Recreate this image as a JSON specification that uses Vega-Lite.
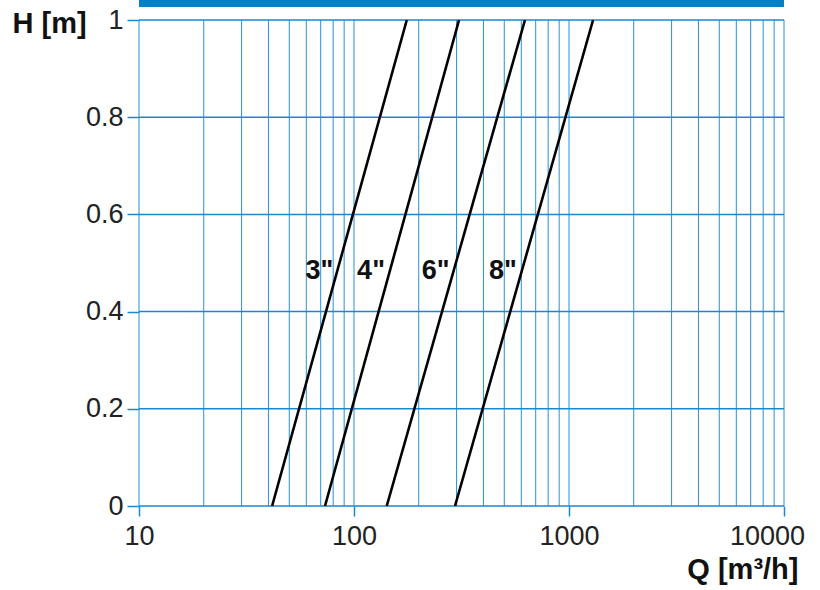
{
  "$schema": "https://vega.github.io/schema/vega-lite/v6.json",
  "autosize": {"type": "none"},
  "width": 645,
  "height": 486,
  "padding": {"left": 139, "top": 20, "right": 36, "bottom": 84},
  "background": "white",
  "config": {
    "view": {"stroke": null},
    "font": "Liberation Sans",
    "axis": {"grid": false, "domain": false}
  },
  "datasets": {
    "curves": [
      {"size": "3\"", "Q": 41.6, "H": 0},
      {"size": "3\"", "Q": 176, "H": 1},
      {"size": "4\"", "Q": 73.3, "H": 0},
      {"size": "4\"", "Q": 308, "H": 1},
      {"size": "6\"", "Q": 142, "H": 0},
      {"size": "6\"", "Q": 624, "H": 1},
      {"size": "8\"", "Q": 295, "H": 0},
      {"size": "8\"", "Q": 1294, "H": 1}
    ],
    "labels": [
      {"size": "3\"", "Q": 69.1, "H": 0.4835},
      {"size": "4\"", "Q": 120, "H": 0.4835},
      {"size": "6\"", "Q": 240, "H": 0.4835},
      {"size": "8\"", "Q": 493, "H": 0.4835}
    ],
    "vgrid": [
      {"Q": 10}, {"Q": 20}, {"Q": 30}, {"Q": 40}, {"Q": 50}, {"Q": 60}, {"Q": 70}, {"Q": 80}, {"Q": 90},
      {"Q": 100}, {"Q": 200}, {"Q": 300}, {"Q": 400}, {"Q": 500}, {"Q": 600}, {"Q": 700}, {"Q": 800}, {"Q": 900},
      {"Q": 1000}, {"Q": 2000}, {"Q": 3000}, {"Q": 4000}, {"Q": 5000}, {"Q": 6000}, {"Q": 7000}, {"Q": 8000}, {"Q": 9000},
      {"Q": 10000}
    ],
    "hgrid": [
      {"H": 0}, {"H": 0.2}, {"H": 0.4}, {"H": 0.6}, {"H": 0.8}, {"H": 1}
    ],
    "band": [{"name": "top"}]
  },
  "layer": [
    {
      "data": {"name": "vgrid"},
      "mark": {"type": "rule", "color": "#2a91d2", "strokeWidth": 1},
      "encoding": {
        "x": {
          "field": "Q", "type": "quantitative",
          "scale": {"type": "log", "domain": [10, 10000], "nice": false},
          "axis": {
            "values": [10, 100, 1000, 10000],
            "format": "d",
            "title": "Q [m³/h]",
            "titleFontSize": 29,
            "titleFontWeight": "bold",
            "titleColor": "#111111",
            "titleAlign": "right",
            "titleAnchor": null,
            "titleX": 659,
            "titleY": 63,
            "titleBaseline": "middle",
            "labelFontSize": 27,
            "labelColor": "#222222",
            "labelPadding": 7,
            "labelOffset": {"expr": "datum.value == 10000 ? -17 : 0"},
            "tickSize": 10,
            "tickColor": "#1a88cf",
            "tickWidth": 1.5,
            "labelFlush": false,
            "labelOverlap": false
          }
        },
        "y": {"datum": 0, "type": "quantitative"},
        "y2": {"datum": 1}
      }
    },
    {
      "data": {"name": "hgrid"},
      "mark": {"type": "rule", "color": "#1a88cf", "strokeWidth": 1.5},
      "encoding": {
        "y": {
          "field": "H", "type": "quantitative",
          "scale": {"domain": [0, 1], "nice": false, "zero": false},
          "axis": {
            "values": [0, 0.2, 0.4, 0.6, 0.8, 1],
            "format": "~g",
            "title": "H [m]",
            "titleAngle": 0,
            "titleFontSize": 29,
            "titleFontWeight": "bold",
            "titleColor": "#111111",
            "titleAlign": "left",
            "titleAnchor": null,
            "titleX": -127,
            "titleY": 3,
            "titleBaseline": "middle",
            "labelFontSize": 27,
            "labelColor": "#222222",
            "labelPadding": 4,
            "tickSize": 12,
            "tickColor": "#1a88cf",
            "tickWidth": 1.5,
            "labelFlush": false,
            "labelOverlap": false
          }
        },
        "x": {"datum": 10, "type": "quantitative"},
        "x2": {"datum": 10000}
      }
    },
    {
      "data": {"name": "band"},
      "mark": {"type": "rect", "color": "#0082c8", "clip": false},
      "encoding": {
        "x": {"datum": 10, "type": "quantitative"},
        "x2": {"datum": 10000},
        "y": {"datum": 1.027, "type": "quantitative"},
        "y2": {"datum": 1.08}
      }
    },
    {
      "data": {"name": "curves"},
      "mark": {"type": "line", "color": "black", "strokeWidth": 2.6},
      "encoding": {
        "x": {"field": "Q", "type": "quantitative"},
        "y": {"field": "H", "type": "quantitative"},
        "detail": {"field": "size"}
      }
    },
    {
      "data": {"name": "labels"},
      "mark": {"type": "text", "fontSize": 27, "fontWeight": "bold", "color": "#111111", "align": "center", "baseline": "middle"},
      "encoding": {
        "x": {"field": "Q", "type": "quantitative"},
        "y": {"field": "H", "type": "quantitative"},
        "text": {"field": "size"}
      }
    }
  ]
}
